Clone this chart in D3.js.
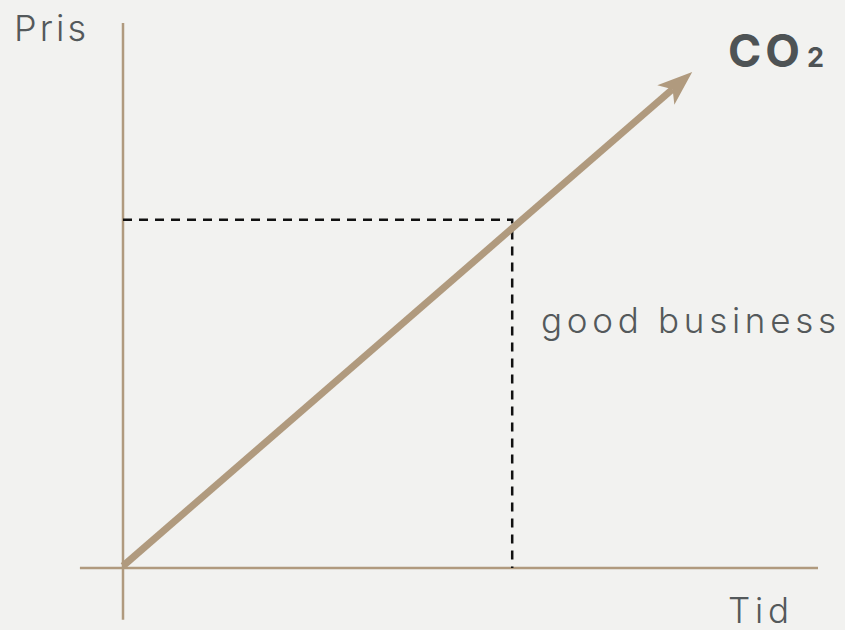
<!DOCTYPE html>
<html>
<head>
<meta charset="utf-8">
<script src="https://cdn.jsdelivr.net/npm/d3@7"></script>
<style>
  html, body { margin: 0; padding: 0; background: #f2f2f0; }
  svg { display: block; }
  .lbl { font-family: Inter, Lato, sans-serif; font-weight: 300; fill: #54595b; }
</style>
</head>
<body>
<svg id="drawing"></svg>
<script>
// axis labels
const yLabel = "Pris";
const xLabel = "Tid";
const seriesName = "CO";
const seriesSub = "2";
const noteText = "good business";

// trend line in chart units (time, price)
const trendT = [0, 81.9];
const trendP = [0, 91.0];

// the highlighted point
const markT = 56.0;
const markP = 63.9;

// axis extents
const xExtent = [-6.2, 100];
const yExtent = [-9.5, 100];

const config = {
    parent: '#drawing',
    width: 845,
    height: 630,
    color: '#b09a7e'
};

const svg = d3.select(config.parent)
    .attr('width', config.width)
    .attr('height', config.height);

svg.append('rect')
    .attr('width', config.width)
    .attr('height', config.height)
    .attr('fill', '#f2f2f0');

const xscale = d3.scaleLinear().domain([0, 100]).range([123, 818]);
const yscale = d3.scaleLinear().domain([0, 100]).range([568, 23]);

// axes
svg.append('line')
    .attr('x1', xscale(xExtent[0])).attr('x2', xscale(xExtent[1]))
    .attr('y1', yscale(0)).attr('y2', yscale(0))
    .attr('stroke', config.color).attr('stroke-width', 2.5);

svg.append('line')
    .attr('x1', xscale(0)).attr('x2', xscale(0))
    .attr('y1', yscale(yExtent[0])).attr('y2', yscale(yExtent[1]))
    .attr('stroke', config.color).attr('stroke-width', 2.5);

// dashed guides
const guide = d3.line()
    .x(d => xscale(d[0]))
    .y(d => yscale(d[1]));

svg.append('path')
    .attr('d', guide([[0, markP], [markT, markP], [markT, 0]]))
    .attr('fill', 'none')
    .attr('stroke', '#111')
    .attr('stroke-width', 2.5)
    .attr('stroke-dasharray', '9,7');

// trend arrow
const x0 = xscale(trendT[0]), y0 = yscale(trendP[0]);
const x1 = xscale(trendT[1]), y1 = yscale(trendP[1]);
const len = Math.hypot(x1 - x0, y1 - y0);
const ux = (x1 - x0) / len, uy = (y1 - y0) / len;
const nx = -uy, ny = ux;
const headLen = 35, headHalf = 13, notch = 26;

svg.append('line')
    .attr('x1', x0).attr('y1', y0 - 2)
    .attr('x2', x1 - ux * notch).attr('y2', y1 - uy * notch)
    .attr('stroke', config.color)
    .attr('stroke-width', 7);

const bx = x1 - ux * headLen, by = y1 - uy * headLen;
svg.append('path')
    .attr('d', `M${x1},${y1} L${bx + nx * headHalf},${by + ny * headHalf} L${x1 - ux * notch},${y1 - uy * notch} L${bx - nx * headHalf},${by - ny * headHalf} Z`)
    .attr('fill', config.color);

// labels
svg.append('text').attr('class', 'lbl')
    .attr('x', 14).attr('y', 41)
    .attr('font-size', '36px')
    .attr('textLength', 72).attr('lengthAdjust', 'spacing')
    .text(yLabel);

svg.append('text').attr('class', 'lbl')
    .attr('x', 728).attr('y', 623)
    .attr('font-size', '35px')
    .attr('textLength', 61).attr('lengthAdjust', 'spacing')
    .text(xLabel);

svg.append('text').attr('class', 'lbl')
    .attr('x', 541).attr('y', 333)
    .attr('font-size', '35px')
    .attr('textLength', 295).attr('lengthAdjust', 'spacing')
    .text(noteText);

const co2 = svg.append('text')
    .attr('x', 728).attr('y', 67)
    .attr('font-family', 'Inter, Lato, sans-serif')
    .attr('font-weight', 700)
    .attr('font-size', '45px')
    .attr('fill', '#4e5355');
co2.append('tspan').attr('textLength', 72).attr('lengthAdjust', 'spacing').text(seriesName);
co2.append('tspan').attr('x', 807).attr('font-size', '27px').text(seriesSub);
</script>
</body>
</html>
